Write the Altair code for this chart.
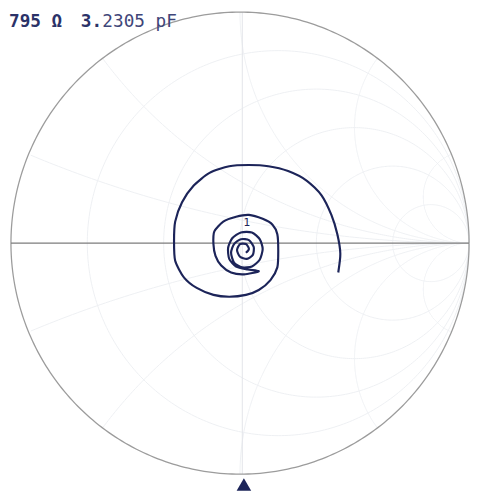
import altair as alt
import pandas as pd
import numpy as np

# Spiral trace (reflection coefficient)
SPIRAL_X = [0.429, 0.438, 0.425, 0.399, 0.356, 0.292, 0.210, 0.124, 0.039, -0.047,
            -0.133, -0.202, -0.253, -0.283, -0.288, -0.283, -0.245, -0.189, -0.116, -0.047,
            0.026, 0.082, 0.133, 0.163, 0.167, 0.163, 0.142, 0.099, 0.039, -0.017,
            -0.073, -0.112, -0.116, -0.107, -0.082, -0.039, 0.017, 0.082,
            0.034, -0.017, -0.047, -0.052, -0.034, 0.004, 0.052, 0.086, 0.099, 0.086,
            0.052, 0.009, -0.026, -0.039, -0.026, 0.004, 0.039, 0.060, 0.056, 0.030,
            0.000, -0.013, 0.000, 0.026, 0.039, 0.026]
SPIRAL_Y = [-0.127, -0.046, 0.038, 0.122, 0.207, 0.270, 0.312, 0.333, 0.338, 0.333,
            0.304, 0.249, 0.177, 0.093, 0.008, -0.076, -0.148, -0.194, -0.224, -0.232,
            -0.224, -0.203, -0.160, -0.105, -0.034, 0.038, 0.080, 0.105, 0.122, 0.114,
            0.093, 0.051, -0.004, -0.055, -0.097, -0.127, -0.135, -0.122,
            -0.114, -0.101, -0.068, -0.021, 0.021, 0.046, 0.046, 0.017, -0.025, -0.072,
            -0.101, -0.105, -0.084, -0.042, -0.004, 0.017, 0.013, -0.017, -0.051, -0.068,
            -0.059, -0.030, -0.004, -0.004, -0.025, -0.042]

# Smith chart grid values
R_VALUES = [0.2, 0.5, 1, 2, 5]
X_VALUES = [0.2, 0.5, 1, 2, 5]

READOUT_A = "795 Ω"
READOUT_B = "3."
READOUT_C = "2305 pF"
MARKER_LABEL = "1"
MARKER_POS = [0.03, 0.085]
TRIANGLE_POS = [0.017, -1.045]

NAVY = "#1c2459"

W, H = 472, 485
xs = alt.Scale(domain=[-1, 1], range=[3, 469])
ys = alt.Scale(domain=[-1, 1], range=[470, 0])

# ---- grid geometry ----
rows = []
gid = 0
t = np.linspace(0, 2 * np.pi, 361)
for r in R_VALUES:
    cx, rad = r / (1 + r), 1 / (1 + r)
    for i, a in enumerate(t):
        rows.append(dict(id=gid, i=i, x=cx + rad * np.cos(a), y=rad * np.sin(a)))
    gid += 1
phi = np.linspace(0, 2 * np.pi, 1441)
for xv in X_VALUES:
    for s in (1, -1):
        cy, rad = s / xv, 1 / xv
        px = 1 + rad * np.cos(phi)
        py = cy + rad * np.sin(phi)
        inside = px ** 2 + py ** 2 <= 1.0001
        k = 0
        for a, b, ok in zip(px, py, inside):
            if ok:
                rows.append(dict(id=gid, i=k, x=a, y=b))
                k += 1
        gid += 1
grid_df = pd.DataFrame(rows)

outer_df = pd.DataFrame(dict(i=range(361), x=np.cos(t), y=np.sin(t)))
hline_df = pd.DataFrame(dict(i=[0, 1], x=[-1, 1], y=[0, 0]))
vline_df = pd.DataFrame(dict(i=[0, 1], x=[0.01, 0.01], y=[1, -1]))
spiral_df = pd.DataFrame(dict(i=range(len(SPIRAL_X)), x=SPIRAL_X, y=SPIRAL_Y))

def enc(**kw):
    return dict(x=alt.X("x:Q", scale=xs, axis=None),
                y=alt.Y("y:Q", scale=ys, axis=None), **kw)

grid = alt.Chart(grid_df).mark_line(color="#eef0f3", strokeWidth=1).encode(
    **enc(detail="id:N", order="i:Q"))
vline = alt.Chart(vline_df).mark_line(color="#e2e4e9", strokeWidth=1).encode(**enc(order="i:Q"))
outer = alt.Chart(outer_df).mark_line(color="#9c9c9c", strokeWidth=1.3).encode(**enc(order="i:Q"))
hline = alt.Chart(hline_df).mark_line(color="#7c7c7c", strokeWidth=1.3).encode(**enc(order="i:Q"))
spiral = alt.Chart(spiral_df).mark_line(color=NAVY, strokeWidth=2.2, strokeJoin="round",
                                        interpolate="cardinal", tension=0.3).encode(
    **enc(order="i:Q"))

mk = alt.Chart(pd.DataFrame(dict(x=[MARKER_POS[0]], y=[MARKER_POS[1]], t=[MARKER_LABEL]))).mark_text(
    color=NAVY, fontSize=11, font="DejaVu Sans").encode(**enc(text="t:N"))
tri = alt.Chart(pd.DataFrame(dict(x=[TRIANGLE_POS[0]], y=[TRIANGLE_POS[1]]))).mark_point(
    shape="triangle-up", filled=True, color=NAVY, size=220, opacity=1).encode(**enc())

def readout(s, x, weight, color):
    return alt.Chart(pd.DataFrame(dict(t=[s]))).mark_text(
        align="left", baseline="alphabetic", font="DejaVu Sans Mono", fontWeight=weight,
        fontSize=18, color=color).encode(x=alt.value(x), y=alt.value(15), text="t:N")

txt_a = readout(READOUT_A, 1, "bold", "#2b3268")
txt_b = readout(READOUT_B, 74, "bold", "#2b3268")
txt_c = readout(READOUT_C, 96, "normal", "#3f4679")

chart = alt.layer(grid, vline, outer, hline, spiral, mk, tri, txt_a, txt_b, txt_c).properties(
    width=W, height=H, autosize=alt.AutoSizeParams(type="none"), padding=0,
    background="white"
).configure_view(stroke=None)

chart.save("out.html", embed_options={"renderer": "svg", "actions": False})
